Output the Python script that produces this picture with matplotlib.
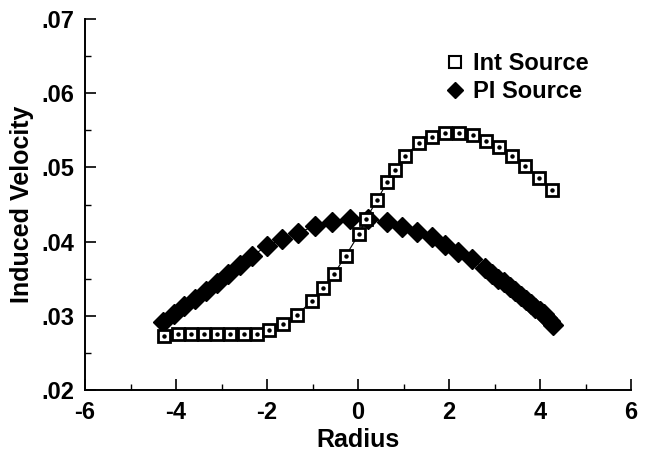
import matplotlib
matplotlib.use('Agg')
import matplotlib.pyplot as plt
from matplotlib.lines import Line2D

# ---- data ----
int_x = [-4.26, -3.96, -3.68, -3.39, -3.09, -2.81, -2.51, -2.23, -1.96, -1.64,
         -1.34, -1.02, -0.76, -0.52, -0.27, 0.02, 0.18, 0.42, 0.64, 0.82,
         1.04, 1.34, 1.62, 1.92, 2.21, 2.52, 2.81, 3.10, 3.39, 3.68, 3.98, 4.27]
int_y = [0.0273, 0.0276, 0.02755, 0.02755, 0.02755, 0.02755, 0.0276, 0.02755, 0.0281, 0.0289,
         0.0301, 0.0320, 0.0338, 0.0357, 0.0381, 0.0410, 0.0431, 0.0456, 0.0480, 0.0497,
         0.0516, 0.0533, 0.0541, 0.0547, 0.0546, 0.0543, 0.0536, 0.0527, 0.0515, 0.0502, 0.0486, 0.0470]

pi_x = [-4.28, -4.05, -3.82, -3.58, -3.34, -3.10, -2.85, -2.60, -2.34, -2.01,
        -1.68, -1.31, -0.95, -0.58, -0.18, 0.22, 0.63, 0.96, 1.29, 1.62,
        1.91, 2.20, 2.50, 2.79, 2.94, 3.08, 3.21, 3.34, 3.46, 3.58,
        3.69, 3.80, 3.90, 4.00, 4.08, 4.16, 4.23, 4.29]
pi_y = [0.0292, 0.0303, 0.0313, 0.0323, 0.0333, 0.0344, 0.0356, 0.0368, 0.0380, 0.0394,
        0.0403, 0.0412, 0.0421, 0.0427, 0.0431, 0.0431, 0.0427, 0.0420, 0.0413, 0.0406,
        0.0396, 0.0386, 0.0376, 0.0364, 0.0357, 0.0350, 0.0345, 0.0339, 0.0333, 0.0327,
        0.0321, 0.0316, 0.0311, 0.0306, 0.0302, 0.0297, 0.0293, 0.0288]

series_labels = ["Int Source", "PI Source"]
x_ticks = [-6, -4, -2, 0, 2, 4, 6]
x_tick_labels = ["-6", "-4", "-2", "0", "2", "4", "6"]
x_minor = [-5, -3, -1, 1, 3, 5]
y_ticks = [0.02, 0.03, 0.04, 0.05, 0.06, 0.07]
y_tick_labels = [".02", ".03", ".04", ".05", ".06", ".07"]
y_minor = [0.025, 0.035, 0.045, 0.055, 0.065]

plt.rcParams['font.family'] = ['Liberation Sans', 'DejaVu Sans']
plt.rcParams['font.weight'] = 'bold'
FS = 17
LFS = 18

fig = plt.figure(figsize=(6.45, 4.59), dpi=100)
ax = fig.add_axes([0.1318, 0.1503, 0.8465, 0.8083])

ax.plot(pi_x, pi_y, color='black', lw=0.8, marker='D', ms=10.5,
        mfc='black', mec='black', zorder=2)
ax.plot(int_x, int_y, color='black', lw=0.8, marker='s', ms=8.3,
        mfc='white', mec='black', mew=2.0, zorder=3)
ax.plot(int_x, int_y, ls='none', marker='o', ms=2.2, color='black', zorder=4)

ax.set_xlim(-6, 6)
ax.set_ylim(0.02, 0.07)
ax.set_xticks(x_ticks)
ax.set_xticklabels(x_tick_labels)
ax.set_xticks(x_minor, minor=True)
ax.set_yticks(y_ticks)
ax.set_yticklabels(y_tick_labels)
ax.set_yticks(y_minor, minor=True)

for s in ['top', 'right']:
    ax.spines[s].set_visible(False)
for s in ['left', 'bottom']:
    ax.spines[s].set_linewidth(1.4)

ax.tick_params(which='major', direction='in', length=8, width=1.2,
               labelsize=FS, pad=8)
ax.tick_params(which='minor', direction='in', length=4, width=1.0)
for lab in ax.get_xticklabels() + ax.get_yticklabels():
    lab.set_fontweight('bold')

ax.set_xlabel("Radius", fontsize=LFS, fontweight='bold', labelpad=3)
ax.set_ylabel("Induced Velocity", fontsize=LFS, fontweight='bold', labelpad=5)

handles = [Line2D([], [], ls='none', marker='s', ms=8, mfc='white', mec='black', mew=1.5),
           Line2D([], [], ls='none', marker='D', ms=8.5, color='black')]
ax.legend(handles, series_labels, loc='upper left', bbox_to_anchor=(0.6676, 0.911),
          frameon=False, handlelength=0.5, handletextpad=0.5,
          labelspacing=0.22, borderpad=0, borderaxespad=0,
          prop={'weight': 'bold', 'size': FS})

fig.savefig('out.png', dpi=100)
